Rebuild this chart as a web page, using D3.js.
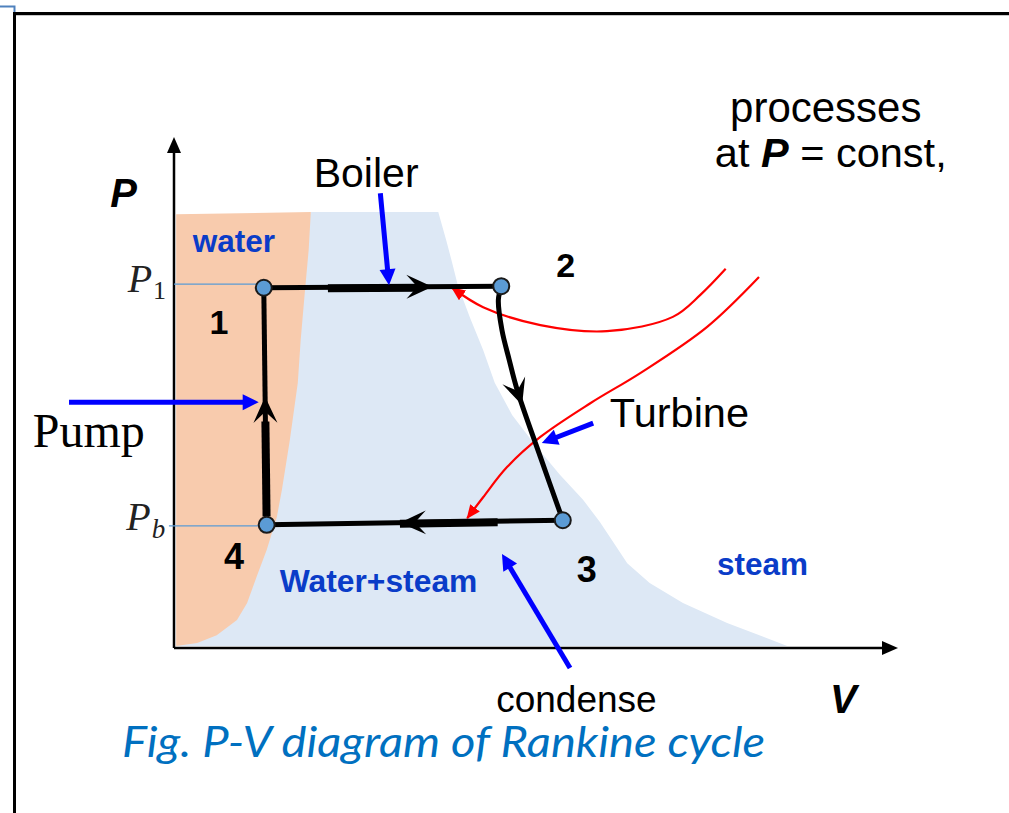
<!DOCTYPE html>
<html>
<head>
<meta charset="utf-8">
<script src="https://cdn.jsdelivr.net/npm/d3@7"></script>
<style>
body { margin: 0; background: #fff; }
svg { display: block; }
</style>
</head>
<body>
<div id="main"></div>
<script>
// diagram units: V and P both 0..100 (arbitrary)
var waterEdge = [
    [0.3, 84.9], [18.9, 85.3], [18.6, 77.9], [18.1, 70.1], [17.5, 60.3],
    [17.1, 51.9], [16.0, 40.7], [14.9, 30.9], [14.2, 25.6], [12.8, 19.2],
    [11.5, 14.3], [10.1, 8.8], [8.7, 5.5], [5.9, 2.5], [3.2, 1.0], [0.3, 0.4]
];
var domeEdge = [
    [18.9, 85.3], [36.5, 85.3], [37.6, 79.8], [38.4, 75.5], [39.2, 71.0],
    [40.9, 64.6], [42.7, 58.3], [44.3, 51.9], [46.7, 45.6], [49.9, 39.7],
    [53.3, 33.9], [56.5, 29.0], [58.8, 24.7], [60.5, 21.1], [62.6, 16.6],
    [65.7, 12.7], [70.3, 8.8], [76.4, 4.9], [84.7, 0.4], [0.3, 0.4]
];

var stateIds = ["1", "2", "3", "4"];
var stateV = [12.4, 45.2, 53.7, 12.8];
var stateP = [70.5, 70.8, 25.0, 24.1];

// expansion 2 -> 3 bends a little
var turbineVia = [[44.8, 68.1], [45.3, 62.2], [46.3, 56.4], [47.4, 50.5], [50.6, 37.4]];

var heatCurves = [
    [[76.2, 74.2], [72.7, 69.1], [68.9, 64.8], [59.8, 62.0], [50.6, 63.2], [42.7, 66.7], [38.4, 70.5]],
    [[80.8, 72.6], [73.6, 62.8], [64.4, 53.8], [57.5, 47.9], [50.6, 41.3], [46.0, 35.4], [42.7, 29.5], [40.5, 25.4]]
];

var pointers = [
    { from: [28.5, 89.0], to: [29.7, 71.0] },   // boiler
    { from: [-14.5, 48.1], to: [11.7, 48.1] },  // pump
    { from: [57.9, 44.0], to: [50.8, 40.1] },   // turbine
    { from: [54.7, -3.9], to: [45.3, 18.4] }    // condense
];

var guides = [
    { name: "P1", p: 71.2, v0: 0, v1: 11.6 },
    { name: "Pb", p: 23.9, v0: -0.7, v1: 11.6 }
];

var processes = [
    { from: 0, to: 1, via: [], arrowAt: 0.71, thick: [0.27, 0.66] },
    { from: 1, to: 2, via: turbineVia, arrowAt: 0.50, thick: null },
    { from: 2, to: 3, via: [], arrowAt: 0.55, thick: [0.22, 0.55] },
    { from: 3, to: 0, via: [], arrowAt: 0.54, thick: [0.04, 0.44] }
];

var ctx = { w: 1009, h: 813, blue: "#0a3cc8", fillWater: "#f8cbad", fillDome: "#dde8f5" };

var x = d3.scaleLinear().domain([0, 100]).range([174, 898]);
var y = d3.scaleLinear().domain([0, 100]).range([648, 137]);

var svg = d3.select("#main").append("svg")
    .attr("width", ctx.w)
    .attr("height", ctx.h);

// frame
svg.append("line").attr("x1", 13).attr("x2", ctx.w).attr("y1", 13.5).attr("y2", 13.5)
    .attr("stroke", "#000").attr("stroke-width", 3);
svg.append("line").attr("x1", 16).attr("x2", ctx.w).attr("y1", 15.5).attr("y2", 15.5)
    .attr("stroke", "#c8c8c8").attr("stroke-width", 1);
svg.append("line").attr("x1", 14.5).attr("x2", 14.5).attr("y1", 12).attr("y2", ctx.h)
    .attr("stroke", "#000").attr("stroke-width", 3);
svg.append("path").attr("d", "M0,6.5H14.5V12").attr("fill", "none")
    .attr("stroke", "#4f81bd").attr("stroke-width", 2);

var line = d3.line().x((d) => x(d[0])).y((d) => y(d[1]));

// regions
svg.append("path").datum(domeEdge)
    .attr("d", line.curve(d3.curveLinearClosed))
    .attr("fill", ctx.fillDome);
svg.append("path").datum(waterEdge)
    .attr("d", line.curve(d3.curveLinearClosed))
    .attr("fill", ctx.fillWater);

function arrow(g, x1, y1, x2, y2, color, width, headLen, headHalf) {
    var dx = x2 - x1, dy = y2 - y1;
    var len = Math.sqrt(dx * dx + dy * dy);
    var ux = dx / len, uy = dy / len;
    var bx = x2 - ux * headLen, by = y2 - uy * headLen;
    g.append("line")
        .attr("x1", x1).attr("y1", y1)
        .attr("x2", bx + ux * 2).attr("y2", by + uy * 2)
        .attr("stroke", color).attr("stroke-width", width);
    g.append("path")
        .attr("d", "M" + x2 + "," + y2 +
            "L" + (bx - uy * headHalf) + "," + (by + ux * headHalf) +
            "L" + (bx + uy * headHalf) + "," + (by - ux * headHalf) + "Z")
        .attr("fill", color);
}

// axes
var axes = svg.append("g");
arrow(axes, x(0), y(0), x(100), y(0), "#000", 2.5, 16, 7);
arrow(axes, x(0), y(0), x(0), y(100), "#000", 2.5, 16, 7);

// P1 / Pb guides
svg.append("g").selectAll("line").data(guides).enter().append("line")
    .attr("x1", (d) => x(d.v0)).attr("x2", (d) => x(d.v1))
    .attr("y1", (d) => y(d.p)).attr("y2", (d) => y(d.p))
    .attr("stroke", "#5b9bd5").attr("stroke-width", 1.3);

// red heat curves
var defs = svg.append("defs");
defs.append("marker").attr("id", "redHead")
    .attr("viewBox", "0 -6 14 12").attr("refX", 13).attr("refY", 0)
    .attr("markerWidth", 14).attr("markerHeight", 12)
    .attr("markerUnits", "userSpaceOnUse").attr("orient", "auto")
    .append("path").attr("d", "M0,-6L14,0L0,6Z").attr("fill", "#ff0000");

var curveLine = d3.line().x((d) => x(d[0])).y((d) => y(d[1])).curve(d3.curveCatmullRom);
svg.append("g").selectAll("path").data(heatCurves).enter().append("path")
    .attr("d", curveLine)
    .attr("fill", "none")
    .attr("stroke", "#ff0000")
    .attr("stroke-width", 2.2)
    .attr("marker-end", "url(#redHead)");

// cycle
var cyc = svg.append("g");
processes.forEach(function (pr) {
    var pts = [[stateV[pr.from], stateP[pr.from]]].concat(pr.via, [[stateV[pr.to], stateP[pr.to]]]);
    var path = cyc.append("path").datum(pts)
        .attr("d", curveLine)
        .attr("fill", "none")
        .attr("stroke", "#000")
        .attr("stroke-width", 5)
        .attr("stroke-linejoin", "round");
    var node = path.node();
    var total = node.getTotalLength();
    if (pr.thick) {
        var a = node.getPointAtLength(total * pr.thick[0]);
        var b = node.getPointAtLength(total * pr.thick[1]);
        cyc.append("line")
            .attr("x1", a.x).attr("y1", a.y + 1).attr("x2", b.x).attr("y2", b.y + 1)
            .attr("stroke", "#000").attr("stroke-width", 8);
    }
    var t = total * pr.arrowAt;
    var tip = node.getPointAtLength(t);
    var p0 = node.getPointAtLength(t - 2);
    var ang = Math.atan2(tip.y - p0.y, tip.x - p0.x) * 180 / Math.PI;
    cyc.append("path")
        .attr("d", "M0,0L-26,-12L-15,0L-26,12Z")
        .attr("transform", "translate(" + tip.x + "," + tip.y + ") rotate(" + ang + ")")
        .attr("fill", "#000");
});

cyc.selectAll("circle").data(stateIds).enter().append("circle")
    .attr("cx", (d, i) => x(stateV[i]))
    .attr("cy", (d, i) => y(stateP[i]))
    .attr("r", 8)
    .attr("fill", "#5b9bd5")
    .attr("stroke", "#1a1a1a")
    .attr("stroke-width", 2);

// blue pointers
var ptr = svg.append("g");
pointers.forEach(function (d) {
    arrow(ptr, x(d.from[0]), y(d.from[1]), x(d.to[0]), y(d.to[1]), "#0000ff", 5, 16, 8);
});

// labels
var sans = "Liberation Sans, Arial, sans-serif";
var labels = [
    { t: "water", v: 2.6, p: 77.5, size: 31.5, w: "bold", c: ctx.blue, a: "start" },
    { t: "Water+steam", v: 14.6, p: 11.0, size: 31.8, w: "bold", c: ctx.blue, a: "start" },
    { t: "steam", v: 75.0, p: 14.3, size: 31.5, w: "bold", c: ctx.blue, a: "start" },
    { t: "1", v: 6.2, p: 61.4, size: 34, w: "bold", c: "#000", a: "middle" },
    { t: "2", v: 54.1, p: 72.6, size: 34, w: "bold", c: "#000", a: "middle" },
    { t: "3", v: 57.0, p: 12.9, size: 36, w: "bold", c: "#000", a: "middle" },
    { t: "4", v: 8.3, p: 15.5, size: 36, w: "bold", c: "#000", a: "middle" },
    { t: "Boiler", v: 19.3, p: 90.2, size: 41, w: "normal", c: "#000", a: "start" },
    { t: "Turbine", v: 60.2, p: 43.2, size: 41.5, w: "normal", c: "#000", a: "start" },
    { t: "condense", v: 44.5, p: -12.5, size: 37, w: "normal", c: "#000", a: "start" },
    { t: "processes", v: 76.8, p: 102.9, size: 42, w: "normal", c: "#000", a: "start" }
];
svg.append("g").selectAll("text").data(labels).enter().append("text")
    .attr("x", (d) => x(d.v))
    .attr("y", (d) => y(d.p))
    .attr("text-anchor", (d) => d.a)
    .attr("font-family", sans)
    .attr("font-size", (d) => d.size)
    .attr("font-weight", (d) => d.w)
    .attr("fill", (d) => d.c)
    .text((d) => d.t);

var at = svg.append("text")
    .attr("x", x(74.7)).attr("y", y(94.1))
    .attr("font-family", sans).attr("font-size", 41.5)
    .style("white-space", "pre");
at.append("tspan").text("at ");
at.append("tspan").attr("font-weight", "bold").attr("font-style", "italic").text("P");
at.append("tspan").text(" = const,");

// axis titles
svg.append("text").attr("x", x(-8.8)).attr("y", y(86.3))
    .attr("font-family", sans).attr("font-size", 40)
    .attr("font-weight", "bold").attr("font-style", "italic").text("P");
svg.append("text").attr("x", x(90.6)).attr("y", y(-12.7))
    .attr("font-family", sans).attr("font-size", 40)
    .attr("font-weight", "bold").attr("font-style", "italic").text("V");

// P1, Pb
var serif = "Liberation Serif, Times New Roman, serif";
var p1 = svg.append("text").attr("x", x(-6.4)).attr("y", y(69.7))
    .attr("font-family", serif).attr("font-size", 40).attr("font-style", "italic").attr("fill", "#222");
p1.append("tspan").text("P");
p1.append("tspan").attr("font-style", "normal").attr("font-size", 26).attr("dy", 7).attr("dx", 1).text("1");
var pb = svg.append("text").attr("x", x(-6.6)).attr("y", y(23.1))
    .attr("font-family", serif).attr("font-size", 40).attr("font-style", "italic").attr("fill", "#222");
pb.append("tspan").text("P");
pb.append("tspan").attr("font-size", 27).attr("dy", 8).attr("dx", 1).text("b");

svg.append("text").attr("x", x(-19.5)).attr("y", y(39.3))
    .attr("font-family", serif).attr("font-size", 48).text("Pump");

// caption
svg.append("text").attr("x", 122).attr("y", 757)
    .attr("font-family", "Lato, Open Sans, sans-serif")
    .attr("font-size", 42).attr("font-style", "italic")
    .attr("fill", "#0070c0")
    .attr("textLength", 643).attr("lengthAdjust", "spacingAndGlyphs")
    .text("Fig. P-V diagram of Rankine cycle");
</script>
</body>
</html>
